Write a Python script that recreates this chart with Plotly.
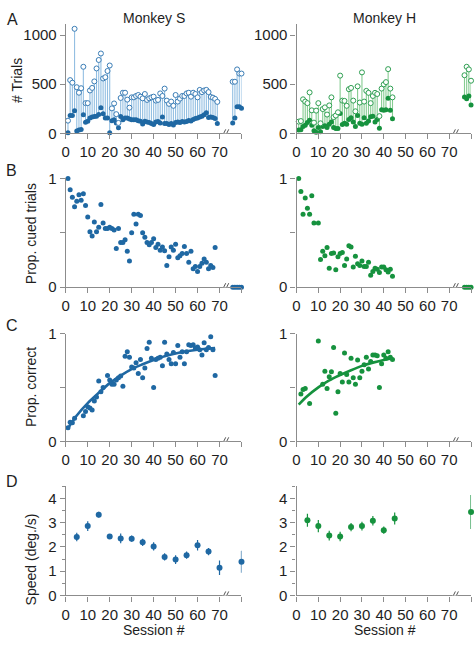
import plotly.graph_objects as go

W, H = 475, 646
BLUE = '#1f68a3'
BLUE_O = '#3a7db6'
BLUE_L = '#93bfe2'
GREEN = '#16923e'
GREEN_O = '#2f9f52'
GREEN_L = '#86cc92'
AXC = '#8c8c8c'
TXT = '#1e1e1e'
FONT = 'Liberation Sans, Arial, Helvetica, sans-serif'

# ---------------- data ----------------
# Panel A: number of trials per session (open = total, filled = dark dots)
S_sess = list(range(1, 70))
S_total = [129, 541, 515, 1063, 469, 413, 459, 677, 307, 307,
           436, 462, 528, 660, 746, 812, 558, 571, 634, 690,
           254, 304, 195, 106, 360, 413, 413, 343, 261, 366,
           366, 380, 390, 373, 356, 400, 340, 356, 366, 373,
           333, 340, 406, 380, 455, 333, 300, 323, 280, 390,
           323, 353, 380, 380, 406, 413, 373, 413, 400, 366,
           442, 419, 436, 442, 419, 370, 363, 350, 320]
S_filled = [5, 182, 182, 231, 24, 33, 40, 188, 112, 122,
            155, 165, 170, 175, 192, 261, 200, 155, 155, 5,
            129, 139, 106, 56, 172, 139, 155, 155, 145, 139,
            139, 139, 129, 122, 96, 122, 116, 110, 100, 90,
            115, 120, 105, 165, 100, 100, 90, 100, 85, 110,
            115, 110, 120, 115, 120, 130, 125, 140, 150, 155,
            165, 175, 190, 210, 160, 165, 160, 150, 100]
S_post_sess = [76, 77, 78, 79, 80]
S_post_total = [525, 525, 650, 608, 608]
S_post_filled = [106, 155, 271, 271, 254]

H_sess = list(range(1, 45))
H_total = [119, 125, 346, 323, 307, 416, 234, 109, 231, 307,
           102, 247, 264, 191, 284, 366, 165, 181, 214, 587,
           333, 330, 280, 449, 462, 333, 224, 478, 313, 620,
           323, 432, 412, 307, 380, 412, 400, 175, 455, 498,
           521, 653, 455, 366]
H_filled = [33, 36, 69, 83, 109, 132, 83, 26, 10, 59,
            16, 69, 76, 59, 92, 115, 59, 50, 50, 201,
            89, 102, 92, 142, 158, 115, 69, 181, 102, 92,
            158, 102, 125, 168, 175, 115, 140, 53, 241, 234,
            241, 356, 234, 148]
H_post_sess = [77, 78, 79, 80]
H_post_total = [591, 677, 650, 535]
H_post_filled = [370, 353, 380, 287]

# Panel B: proportion of cued trials
B_S_sess = list(range(1, 69))
B_S_val = [1.0, 0.896, 0.827, 0.74, 0.79, 0.85, 0.80, 0.86, 0.75, 0.645,
           0.51, 0.47, 0.60, 0.51, 0.55, 0.76, 0.59, 0.54, 0.54, 0.55,
           0.54, 0.525, 0.355, 0.54, 0.41, 0.41, 0.435, 0.33, 0.24, 0.50,
           0.67, 0.58, 0.67, 0.66, 0.50, 0.46, 0.41, 0.39, 0.41, 0.445,
           0.365, 0.395, 0.34, 0.37, 0.335, 0.20, 0.28, 0.37, 0.34, 0.395,
           0.27, 0.29, 0.31, 0.375, 0.31, 0.23, 0.33, 0.17, 0.19, 0.145,
           0.19, 0.22, 0.26, 0.23, 0.17, 0.20, 0.18, 0.365]
B_S_post_sess = [76, 77, 78, 79, 80]
B_S_post_val = [0, 0, 0, 0, 0]

B_H_sess = list(range(1, 45))
B_H_val = [1.0, 0.88, 0.67, 0.82, 0.725, 0.67, 0.84, 0.59, None, 0.59,
           0.255, 0.33, 0.29, 0.365, 0.175, 0.31, 0.315, 0.16, 0.28, 0.31,
           0.32, 0.20, 0.26, 0.38, 0.37, 0.185, 0.285, 0.215, 0.20, 0.24,
           0.19, 0.19, 0.23, 0.11, 0.145, 0.175, 0.165, 0.135, 0.185, 0.185,
           0.16, 0.14, 0.165, 0.10]
B_H_post_sess = [77, 78, 79, 80]
B_H_post_val = [0, 0, 0, 0]

# Panel C: proportion correct + fitted curve
C_S_sess = [1, 2, 3, 4, 8, 9, 10, 11, 12, 13, 14, 15, 16, 17] + list(range(19, 69))
C_S_val = [0.127, 0.178, 0.172, 0.214, 0.238, 0.277, 0.32, 0.31, 0.29, 0.373,
           0.41, 0.56, 0.46, 0.50,
           0.61, 0.57, 0.53, 0.53, 0.57, 0.59, 0.605, 0.51, 0.79, 0.83,
           0.78, 0.69, 0.68, 0.73, 0.63, 0.76, 0.59, 0.68, 0.86, 0.92,
           0.77, 0.50, 0.76, 0.77, 0.78, 0.70, 0.92, 0.81, 0.76, 0.72,
           0.825, 0.72, 0.89, 0.78, 0.83, 0.72, 0.83, 0.895, 0.89, 0.895,
           0.865, 0.875, 0.85, 0.80, 0.915, 0.85, 0.87, 0.97, 0.85, 0.61]
C_S_fit_x = [1, 5, 10, 15, 20, 25, 30, 35, 40, 45, 50, 55, 60, 65, 68]
C_S_fit_y = [0.12, 0.24, 0.355, 0.45, 0.54, 0.61, 0.67, 0.715, 0.755, 0.79,
             0.815, 0.835, 0.85, 0.86, 0.865]

C_H_sess = [2, 3, 4, 6, 10] + list(range(12, 45))
C_H_val = [0.44, 0.48, 0.49, 0.35, 0.93,
           0.53, 0.65, 0.49, 0.60, 0.645, 0.87, 0.26, 0.46, 0.63, 0.55,
           0.82, 0.62, 0.55, 0.77, 0.59, 0.53, 0.755, 0.59, 0.65, 0.71,
           0.78, 0.67, 0.74, 0.80, 0.80, 0.795, 0.50, 0.72, 0.80, 0.77,
           0.83, 0.78, 0.76]
C_H_fit_x = [1, 5, 10, 15, 20, 25, 30, 35, 40, 44]
C_H_fit_y = [0.34, 0.42, 0.50, 0.565, 0.615, 0.66, 0.70, 0.73, 0.755, 0.77]

# Panel D: speed (mean +/- error) in 5-session bins
D_S_bin = [5, 10, 15, 20, 25, 30, 35, 40, 45, 50, 55, 60, 65, 70, 80]
D_S_speed = [2.41, 2.86, 3.33, 2.43, 2.35, 2.34, 2.19, 2.02, 1.59, 1.48, 1.66, 2.07, 1.81, 1.14, 1.39]
D_S_err = [0.18, 0.2, 0.12, 0.1, 0.2, 0.13, 0.15, 0.17, 0.15, 0.18, 0.15, 0.22, 0.15, 0.3, 0.45]
D_H_bin = [5, 10, 15, 20, 25, 30, 35, 40, 45, 80]
D_H_speed = [3.10, 2.86, 2.47, 2.43, 2.82, 2.86, 3.08, 2.69, 3.17, 3.44]
D_H_err = [0.27, 0.25, 0.2, 0.2, 0.17, 0.18, 0.2, 0.15, 0.25, 0.7]

X_TICKS = [0, 10, 20, 30, 40, 50, 60, 70, 80]
X_TICKTEXT = ['0', '10', '20', '30', '40', '50', '60', '70', '']
BREAK_AT = 72.6

# ---------------- figure ----------------
fig = go.Figure()


def stems(x1, f1, t1, x2, f2, t2):
    xs, ys = [], []
    for x, f, t in list(zip(x1, f1, t1)) + list(zip(x2, f2, t2)):
        xs += [x, x, None]
        ys += [f, t, None]
    return xs, ys


def add_A(ax, sess, tot, fil, psess, ptot, pfil, col, colo, coll):
    xs, ys = stems(sess, fil, tot, psess, pfil, ptot)
    fig.add_trace(go.Scatter(x=xs, y=ys, mode='lines', line=dict(color=coll, width=1.1),
                             xaxis='x' + ax, yaxis='y' + ax, hoverinfo='skip', cliponaxis=False))
    fig.add_trace(go.Scatter(x=sess + psess, y=fil + pfil, mode='markers',
                             marker=dict(color=col, size=5), xaxis='x' + ax, yaxis='y' + ax,
                             cliponaxis=False))
    fig.add_trace(go.Scatter(x=sess + psess, y=tot + ptot, mode='markers',
                             marker=dict(color='white', size=5, line=dict(color=colo, width=1)),
                             xaxis='x' + ax, yaxis='y' + ax, cliponaxis=False))


add_A('', S_sess, S_total, S_filled, S_post_sess, S_post_total, S_post_filled, BLUE, BLUE_O, BLUE_L)
add_A('2', H_sess, H_total, H_filled, H_post_sess, H_post_total, H_post_filled, GREEN, GREEN_O, GREEN_L)


def add_dots(ax, x, y, col, size=5):
    fig.add_trace(go.Scatter(x=x, y=y, mode='markers', marker=dict(color=col, size=size),
                             xaxis='x' + ax, yaxis='y' + ax, cliponaxis=False))


add_dots('3', B_S_sess + B_S_post_sess, B_S_val + B_S_post_val, BLUE)
add_dots('4', B_H_sess + B_H_post_sess, B_H_val + B_H_post_val, GREEN)

fig.add_trace(go.Scatter(x=C_S_fit_x, y=C_S_fit_y, mode='lines', line=dict(color=BLUE, width=2.6, shape='spline'),
                         xaxis='x5', yaxis='y5', cliponaxis=False))
add_dots('5', C_S_sess, C_S_val, BLUE)
fig.add_trace(go.Scatter(x=C_H_fit_x, y=C_H_fit_y, mode='lines', line=dict(color=GREEN, width=2.6, shape='spline'),
                         xaxis='x6', yaxis='y6', cliponaxis=False))
add_dots('6', C_H_sess, C_H_val, GREEN)

for ax, x, y, e, col in [('7', D_S_bin, D_S_speed, D_S_err, BLUE), ('8', D_H_bin, D_H_speed, D_H_err, GREEN)]:
    fig.add_trace(go.Scatter(x=x, y=y, mode='markers', marker=dict(color=col, size=6),
                             error_y=dict(type='data', array=e, color=col, thickness=1.2, width=0),
                             xaxis='x' + ax, yaxis='y' + ax, cliponaxis=False))

# ---------------- axes ----------------
XL = [62.3 / W, 239.5 / W]
XR = [295 / W, 471 / W]
YA = [1 - 127.7 / H, 1 - 15.6 / H]
YB = [1 - 285.7 / H, 1 - 174 / H]
YC = [1 - 444 / H, 1 - 333.3 / H]
YD = [1 - 602.3 / H, 1 - 490.2 / H]

common = dict(showline=True, linecolor=AXC, linewidth=1.2, ticks='outside', ticklen=5,
              tickcolor=AXC, tickwidth=1.2, showgrid=False, zeroline=False,
              tickfont=dict(family=FONT, size=15, color=TXT), fixedrange=True)

layout_axes = {}
names = ['', '2', '3', '4', '5', '6', '7', '8']
ydoms = [YA, YA, YB, YB, YC, YC, YD, YD]
for i, n in enumerate(names):
    xd = XL if i % 2 == 0 else XR
    layout_axes['xaxis' + n] = dict(common, domain=xd, range=[0, 80], tickvals=X_TICKS,
                                    ticktext=X_TICKTEXT, anchor='y' + n)
    yax = dict(common, domain=ydoms[i], anchor='x' + n)
    if i < 2:
        yax.update(range=[0, 1110], tickvals=[0, 500, 1000], ticktext=['0', '500', '1000'])
    elif i < 6:
        yax.update(range=[0, 1], tickvals=[0, 0.5, 1], ticktext=['0', '', '1'])
    else:
        yax.update(range=[0, 4.5], tickvals=[0, 1, 2, 3, 4], ticktext=['0', '1', '2', '3', '4'],
                   minor=dict(tickvals=[0.5, 1.5, 2.5, 3.5, 4.5], ticks='outside', ticklen=3,
                              tickcolor=AXC, tickwidth=1.2))
    layout_axes['yaxis' + n] = yax

fig.update_layout(**layout_axes)

# axis break marks
shapes = []
for n in names:
    xr = 'x' + n
    yr = 'y' + n
    shapes.append(dict(type='rect', xref=xr, yref=yr, xsizemode='pixel', ysizemode='pixel',
                       xanchor=BREAK_AT, yanchor=0, x0=-2.5, x1=2.5, y0=-2, y1=2,
                       fillcolor='white', line=dict(width=0), layer='above'))
    for dx in (-1.5, 1.5):
        shapes.append(dict(type='line', xref=xr, yref=yr, xsizemode='pixel', ysizemode='pixel',
                           xanchor=BREAK_AT, yanchor=0, x0=dx - 2, x1=dx + 2, y0=-4, y1=4,
                           line=dict(color='#555555', width=1), layer='above'))

# ---------------- text ----------------
ann = []


def txt(text, x, y, size, rot=0, xanchor='center'):
    ann.append(dict(text=text, x=x / W, y=1 - y / H, xref='paper', yref='paper', showarrow=False,
                    font=dict(family=FONT, size=size, color=TXT), textangle=rot,
                    xanchor=xanchor, yanchor='middle'))


txt('Monkey S', 151, 9, 14)
txt('Monkey H', 384, 9, 14)
txt('A', 9, 11, 16)
txt('B', 8, 166, 16)
txt('C', 8.5, 325, 16)
txt('D', 8.5, 485, 16)
txt('# Trials', 13, 73, 14, -90)
txt('Prop. cued trials', 27.5, 231, 14, -90)
txt('Prop. correct', 27.5, 388, 14, -90)
txt('Speed (deg./s)', 27.5, 565, 14, -90)
txt('Session #', 151, 638, 14)
txt('Session #', 384, 638, 14)

fig.update_layout(width=W, height=H, margin=dict(l=0, r=0, t=0, b=0),
                  paper_bgcolor='white', plot_bgcolor='white', showlegend=False,
                  shapes=shapes, annotations=ann, font=dict(family=FONT, color=TXT))

fig.write_html('out.html', config={'displayModeBar': False},
               post_script="document.body.style.margin='0px';document.body.style.padding='0px';document.body.style.overflow='hidden';")
